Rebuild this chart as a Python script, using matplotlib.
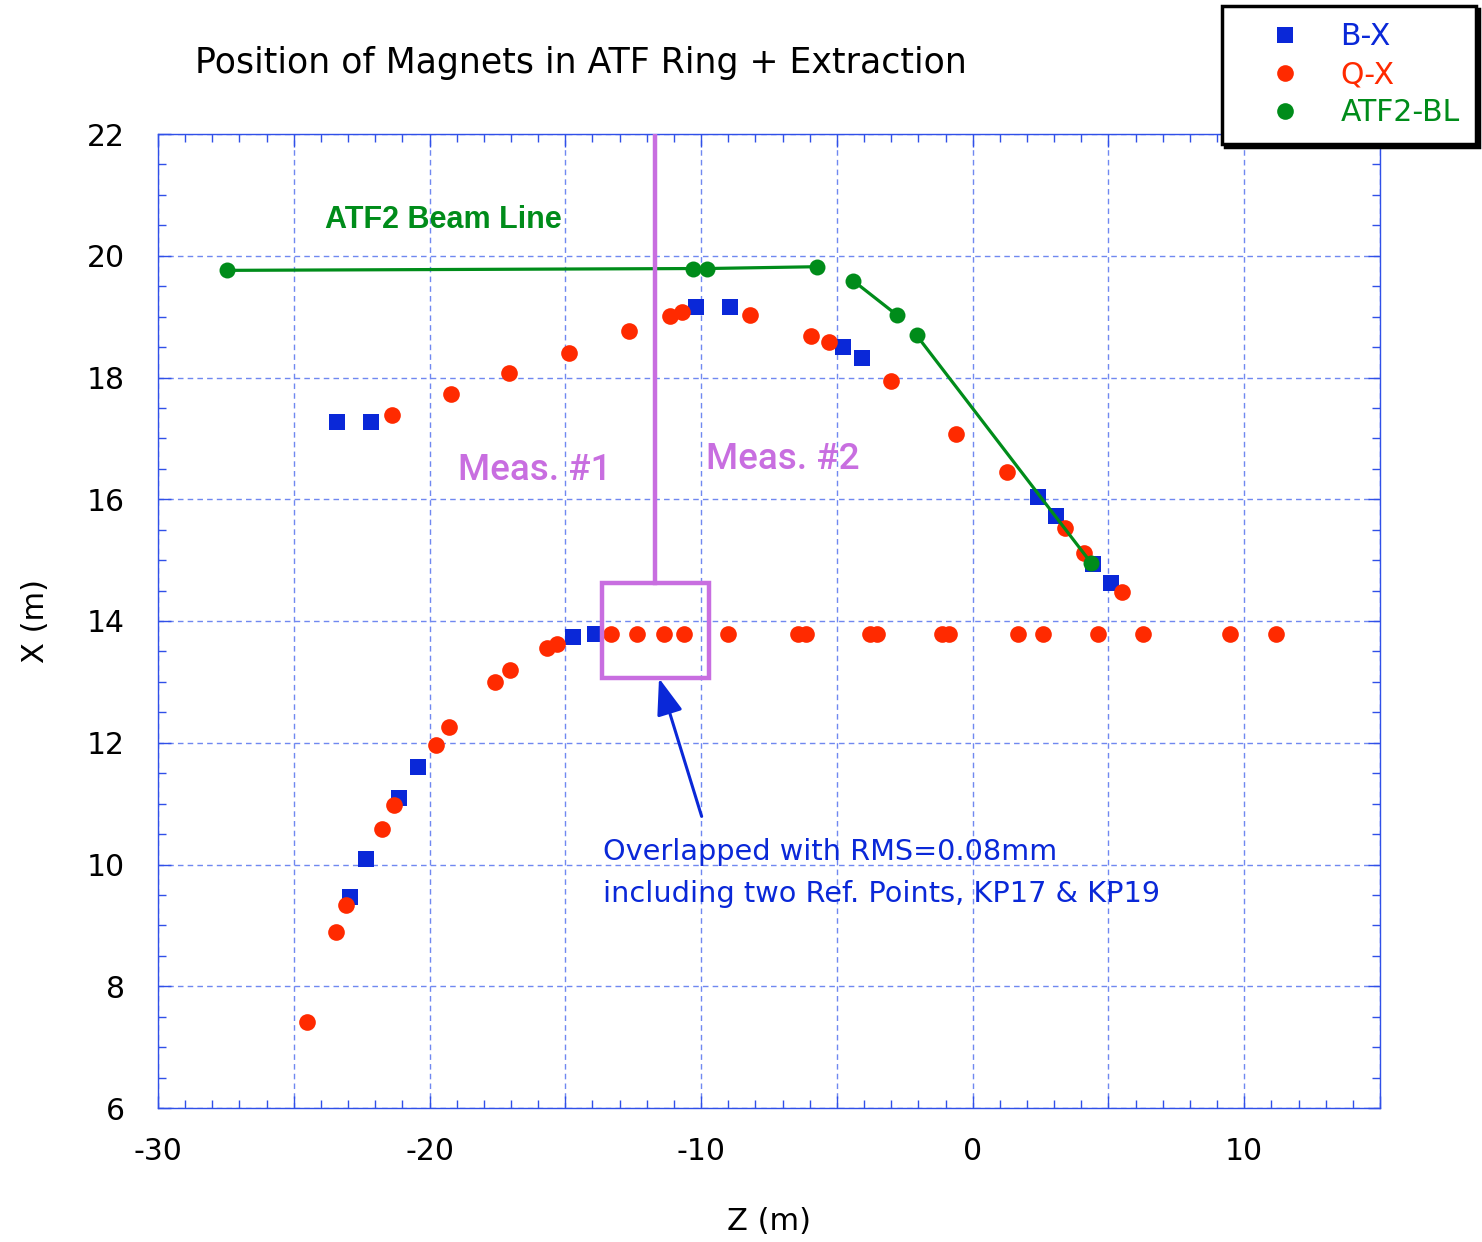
import matplotlib
import matplotlib.pyplot as plt
from matplotlib.lines import Line2D
from matplotlib.patches import Rectangle
from matplotlib.ticker import MultipleLocator, FuncFormatter

matplotlib.use('Agg')

# B-X magnets (Z, X) in metres
bx_z = [-23.41, -22.93, -22.34, -22.16, -21.13, -20.43, -14.73, -13.90,
        -10.19, -8.94, -4.78, -4.08, 2.39, 3.07, 4.43, 5.09]
bx_x = [17.27, 9.47, 10.09, 17.27, 11.10, 11.60, 13.73, 13.79,
        19.16, 19.16, 18.50, 18.32, 16.04, 15.73, 14.93, 14.63]

# Q-X magnets
qx_z = [-24.53, -23.45, -23.07, -21.74, -21.38, -21.31, -19.76, -19.27,
        -19.21, -17.58, -17.06, -17.04, -15.69, -15.29, -14.88, -13.31,
        -12.64, -12.35, -11.36, -11.15, -10.72, -10.63, -9.00, -8.20,
        -6.42, -6.14, -5.95, -5.30, -3.78, -3.54, -3.02, -1.14,
        -0.88, -0.60, 1.26, 1.67, 2.60, 3.39, 4.10, 4.61,
        5.50, 6.28, 9.48, 11.16]
qx_x = [7.41, 8.89, 9.33, 10.59, 17.39, 10.97, 11.97, 12.26,
        17.73, 13.00, 18.08, 13.20, 13.55, 13.62, 18.41, 13.79,
        18.77, 13.79, 13.79, 19.01, 19.08, 13.79, 13.79, 19.03,
        13.79, 13.79, 18.68, 18.59, 13.79, 13.79, 17.94, 13.79,
        13.79, 17.08, 16.44, 13.79, 13.79, 15.53, 15.11, 13.79,
        14.48, 13.79, 13.79, 13.79]

# ATF2 beam line points, joined in three pieces
bl_z = [-27.45, -10.29, -9.80, -5.72, -4.40, -2.80, -2.06, 4.37]
bl_x = [19.76, 19.79, 19.79, 19.82, 19.59, 19.03, 18.69, 14.95]
bl_segments = [(0, 4), (4, 6), (6, 8)]

# measurement boundary and overlap box
meas_z = -11.70
box_z = (-13.65, -9.71)
box_x = (13.06, 14.62)

BLUE = '#0a28d8'
RED = '#ff2a00'
GREEN = '#008c1a'
PURPLE = '#c86ee0'
GRID = '#7088f0'

fig = plt.figure(figsize=(14.82, 12.42), dpi=100)
ax = fig.add_axes([158 / 1482, 1 - 1108 / 1242, 1222 / 1482, 974 / 1242])

ax.plot(bx_z, bx_x, 's', color=BLUE, ms=11.5, mew=0, zorder=3)
ax.plot(qx_z, qx_x, 'o', color=RED, ms=12, mew=0, zorder=4)
for a, b in bl_segments:
    ax.plot(bl_z[a:b], bl_x[a:b], '-o', color=GREEN, lw=2.3, ms=11.5, mew=0, zorder=5)

# Meas. boundary + overlap box
ax.plot([meas_z, meas_z], [22, box_x[1]], color=PURPLE, lw=3.2, zorder=6)
ax.add_patch(Rectangle((box_z[0], box_x[0]), box_z[1] - box_z[0], box_x[1] - box_x[0],
                       fill=False, ec=PURPLE, lw=3.2, zorder=6))
ax.annotate('', xy=(-11.55, 13.06), xytext=(-9.98, 10.79),
            arrowprops=dict(arrowstyle='-|>,head_length=0.7,head_width=0.25', color=BLUE,
                            lw=2.2, mutation_scale=32, shrinkA=0, shrinkB=0), zorder=7)

ax.text(-23.85, 20.59, 'ATF2 Beam Line', color=GREEN, fontsize=22, fontweight='bold',
        family='Liberation Sans', va='center', ha='left')
ax.text(-18.95, 16.48, 'Meas. #1', color=PURPLE, fontsize=26.5, family='Roboto',
        fontweight='medium', va='center', ha='left')
ax.text(-9.82, 16.66, 'Meas. #2', color=PURPLE, fontsize=26.5, family='Roboto',
        fontweight='medium', va='center', ha='left')
ax.text(-13.61, 10.07, 'Overlapped with RMS=0.08mm', color=BLUE, fontsize=20.7,
        va='baseline', ha='left')
ax.text(-13.61, 9.38, 'including two Ref. Points, KP17 & KP19', color=BLUE, fontsize=20.7,
        va='baseline', ha='left')

ax.set_xlim(-30, 15)
ax.set_ylim(6, 22)
ax.xaxis.set_major_locator(MultipleLocator(5))
ax.xaxis.set_minor_locator(MultipleLocator(1))
ax.yaxis.set_major_locator(MultipleLocator(2))
ax.yaxis.set_minor_locator(MultipleLocator(0.5))
ax.xaxis.set_major_formatter(FuncFormatter(lambda v, p: f'{v:.0f}' if v % 10 == 0 else ''))

ax.grid(True, which='major', color=GRID, ls=(0, (4, 3)), lw=1.0)
for s in ax.spines.values():
    s.set_color('#3050e8')
    s.set_linewidth(1.0)
ax.tick_params(which='both', direction='in', top=True, right=True, colors='#3050e8',
               labelcolor='black', labelsize=21.5)
ax.tick_params(which='major', length=9, width=1.0)
ax.tick_params(which='minor', length=6, width=1.0)
ax.tick_params(axis='y', pad=24)
ax.tick_params(axis='x', pad=21)

ax.set_xlabel('Z (m)', fontsize=22)
ax.set_ylabel('X (m)', fontsize=22)
ax.xaxis.set_label_coords(0.5, -0.102)
ax.yaxis.set_label_coords(-0.088, 0.5)

fig.text(195 / 1482, 1 - 73 / 1242, 'Position of Magnets in ATF Ring + Extraction',
         fontsize=25, ha='left', va='baseline')

handles = [
    Line2D([], [], ls='none', marker='s', color=BLUE, ms=11, mew=0),
    Line2D([], [], ls='none', marker='o', color=RED, ms=12, mew=0),
    Line2D([], [], ls='none', marker='o', color=GREEN, ms=12, mew=0),
]
leg = fig.legend(handles, ['B-X', 'Q-X', 'ATF2-BL'], loc='upper right',
                 bbox_to_anchor=(1476 / 1482, 1 - 6 / 1242), borderaxespad=0,
                 fontsize=21.5, frameon=True, fancybox=False, edgecolor='black',
                 borderpad=0.55, handlelength=3.1, handletextpad=0.3, labelspacing=0.3,
                 shadow={'color': 'black', 'alpha': 1})
leg.get_frame().set_linewidth(2.5)
for txt, c in zip(leg.get_texts(), [BLUE, RED, GREEN]):
    txt.set_color(c)

fig.savefig('out.png', dpi=100)
